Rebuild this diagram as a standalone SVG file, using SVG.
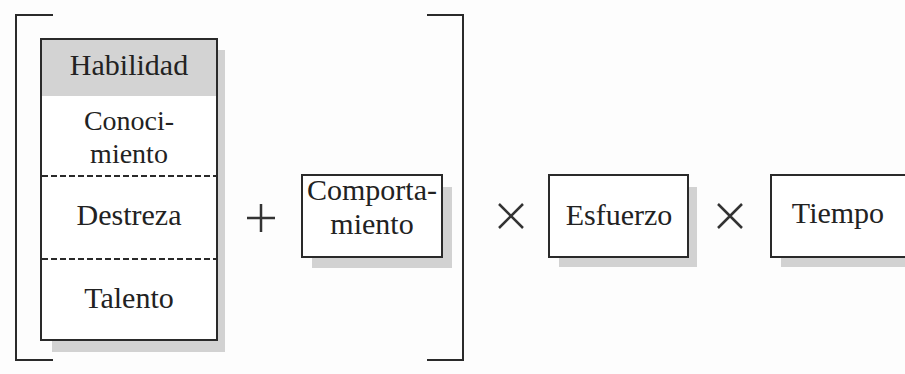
<svg xmlns="http://www.w3.org/2000/svg" width="905" height="374" viewBox="0 0 905 374">
<style>
.box{fill:#fff;stroke:#2a2a2a;stroke-width:2}
.shadow{fill:#d2d2d2}
.lbl{font-family:"Liberation Serif","Times New Roman",serif;font-size:30px;fill:#222;text-anchor:middle}
.sm{font-size:28px}
.br{fill:none;stroke:#2a2a2a;stroke-width:2}
.op{fill:none;stroke:#333;stroke-width:2.5}
.dash{stroke:#2a2a2a;stroke-width:2;stroke-dasharray:6 3}
</style>
<rect width="905" height="374" fill="#fdfdfd"/>
<g id="brackets">
<path class="br" d="M53,15 H16 V360 H53"/>
<path class="br" d="M427,15 H463 V360 H427"/>
</g>
<g id="habilidad">
<rect class="shadow" x="52" y="50" width="173" height="302"/>
<rect class="box" x="41" y="39" width="176" height="301"/>
<rect x="42" y="40" width="174" height="56" fill="#d3d3d3"/>
<line class="dash" x1="42" y1="176" x2="216" y2="176"/>
<line class="dash" x1="42" y1="259" x2="216" y2="259"/>
<text class="lbl" x="129" y="75">Habilidad</text>
<text class="lbl sm" x="129" y="130">Conoci-</text>
<text class="lbl sm" x="129" y="163">miento</text>
<text class="lbl" x="129" y="225">Destreza</text>
<text class="lbl" x="129" y="308">Talento</text>
</g>
<g id="plus">
<path class="op" d="M247,218 H275 M261,204 V232"/>
</g>
<g id="comportamiento">
<rect class="shadow" x="312" y="187" width="140" height="81"/>
<rect class="box" x="302" y="175" width="140" height="82"/>
<text class="lbl" x="372" y="200">Comporta-</text>
<text class="lbl" x="372" y="234">miento</text>
</g>
<g id="times1">
<path class="op" d="M499,204 L523,228 M523,204 L499,228"/>
</g>
<g id="esfuerzo">
<rect class="shadow" x="559" y="187" width="138" height="80"/>
<rect class="box" x="549" y="175" width="139" height="82"/>
<text class="lbl" x="619" y="225">Esfuerzo</text>
</g>
<g id="times2">
<path class="op" d="M718,204 L742,228 M742,204 L718,228"/>
</g>
<g id="tiempo">
<rect class="shadow" x="781" y="187" width="140" height="80"/>
<rect class="box" x="771" y="175" width="150" height="82"/>
<text class="lbl" x="838" y="223">Tiempo</text>
</g>
</svg>
